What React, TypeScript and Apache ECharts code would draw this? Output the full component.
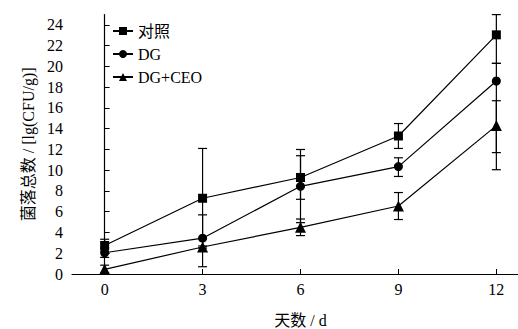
import React, { useEffect, useRef } from "react";
import * as echarts from "echarts";

const days = [0, 3, 6, 9, 12];
const xTicks = [0, 3, 6, 9, 12];
const yTicks = [0, 2, 4, 6, 8, 10, 12, 14, 16, 18, 20, 22, 24];

const seriesNames = ["对照", "DG", "DG+CEO"];
const controlValues = [2.75, 7.3, 9.3, 13.3, 23.05];
const controlLow = [2.2, 2.5, 7.2, 12.1, 20.3];
const controlHigh = [3.35, 12.1, 11.4, 14.5, 25.0];

const dgValues = [2.05, 3.45, 8.45, 10.35, 18.6];
const dgLow = [1.6, 2.7, 4.95, 9.4, 11.7];
const dgHigh = [2.5, 5.7, 12.0, 11.2, 20.3];

const ceoValues = [0.45, 2.6, 4.5, 6.55, 14.3];
const ceoLow = [0.1, 0.7, 3.7, 5.25, 10.05];
const ceoHigh = [0.85, 3.4, 5.3, 7.85, 16.7];

const symbols = ["rect", "circle", "triangle"];
const symbolSizes = [9, 9, 11];

const FONT = '"Liberation Serif", "Noto Sans CJK SC", serif';

export default function App() {
  const ref = useRef<HTMLDivElement>(null);
  useEffect(() => {
    if (!ref.current) return;
    const chart = echarts.init(ref.current, null, { renderer: "svg" });
    const values = [controlValues, dgValues, ceoValues];
    const lows = [controlLow, dgLow, ceoLow];
    const highs = [controlHigh, dgHigh, ceoHigh];

    const errSeries = values.map((_, si) => ({
      type: "custom",
      name: seriesNames[si] + "-err",
      z: 1,
      silent: true,
      data: days.map((d, i) => [d, lows[si][i], highs[si][i]]),
      renderItem: (params: any, api: any) => {
        const x = api.value(0);
        const lo = api.coord([x, api.value(1)]);
        const hi = api.coord([x, api.value(2)]);
        const hw = 4.5;
        const st = { stroke: "#000", lineWidth: 1.2 };
        return {
          type: "group",
          children: [
            { type: "line", shape: { x1: lo[0], y1: lo[1], x2: hi[0], y2: hi[1] }, style: st },
            { type: "line", shape: { x1: lo[0] - hw, y1: lo[1], x2: lo[0] + hw, y2: lo[1] }, style: st },
            { type: "line", shape: { x1: hi[0] - hw, y1: hi[1], x2: hi[0] + hw, y2: hi[1] }, style: st },
          ],
        };
      },
    }));

    const lineSeries = values.map((vals, si) => ({
      type: "line",
      name: seriesNames[si],
      z: 3,
      data: days.map((d, i) => [d, vals[i]]),
      symbol: symbols[si],
      symbolSize: symbolSizes[si],
      showAllSymbol: true,
      lineStyle: { color: "#000", width: 1.2 },
      itemStyle: { color: "#000", borderColor: "#000", borderWidth: 0 },
    }));

    chart.setOption({
      animation: false,
      textStyle: { fontFamily: FONT },
      legend: {
        orient: "vertical",
        left: 107,
        top: 18,
        itemWidth: 20,
        itemHeight: 10,
        itemGap: 7,
        data: seriesNames,
        textStyle: { fontFamily: FONT, fontSize: 16, color: "#000" },
      },
      grid: { left: 72, right: -11, top: 14.6, bottom: 55, containLabel: false, outerBoundsMode: "none" },
      xAxis: {
        type: "value",
        min: -1,
        max: 13,
        name: "天数 / d",
        nameLocation: "middle",
        nameGap: 38,
        nameTextStyle: { fontFamily: FONT, fontSize: 16, color: "#000" },
        axisLine: { lineStyle: { color: "#000", width: 1.2 } },
        axisTick: { inside: true, length: 5, customValues: xTicks, lineStyle: { color: "#000" } },
        axisLabel: { customValues: xTicks, fontFamily: FONT, fontSize: 16, color: "#000", margin: 7 },
        splitLine: { show: false },
      },
      yAxis: {
        type: "value",
        min: 0,
        max: 25,
        name: "菌落总数 / [lg(CFU/g)]",
        nameLocation: "middle",
        nameGap: 35,
        nameRotate: 90,
        nameTextStyle: { fontFamily: FONT, fontSize: 16, color: "#000" },
        axisLine: { show: true, lineStyle: { color: "#000", width: 1.2 } },
        axisTick: { show: true, inside: true, length: 5, customValues: yTicks, lineStyle: { color: "#000" } },
        axisLabel: { customValues: yTicks, fontFamily: FONT, fontSize: 16, color: "#000", margin: 9 },
        splitLine: { show: false },
      },
      series: [...errSeries, ...lineSeries],
    });
    return () => chart.dispose();
  }, []);
  return (
    <div style={{ position: "absolute", left: 0, top: 0, width: 518, height: 329, overflow: "hidden", background: "#fff" }}>
      <div ref={ref} style={{ width: 518, height: 329 }} />
    </div>
  );
}
